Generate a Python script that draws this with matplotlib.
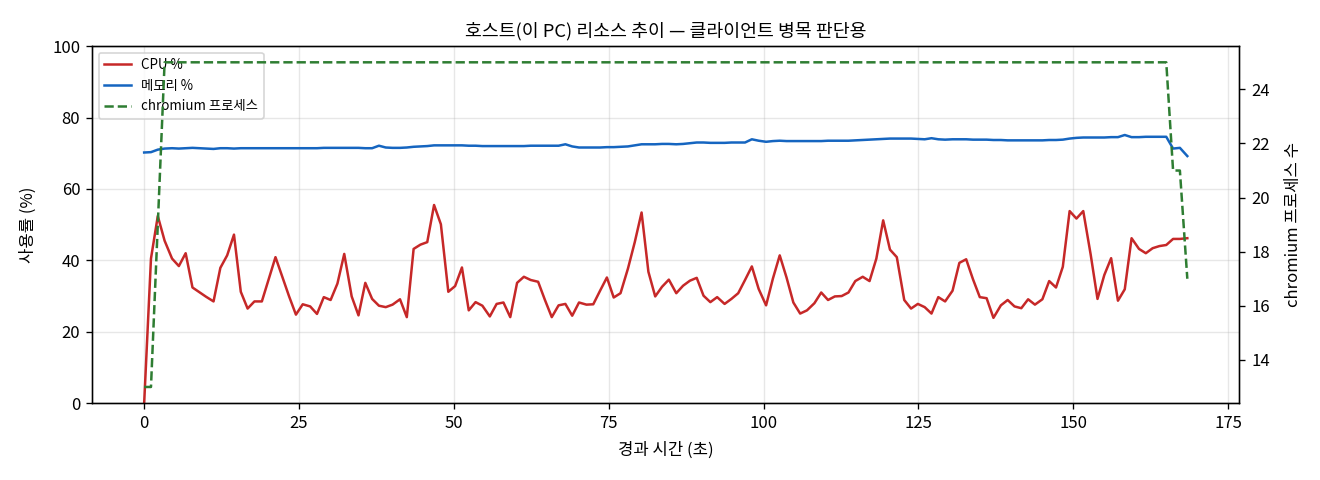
import matplotlib
matplotlib.use("Agg")
import matplotlib.pyplot as plt

plt.rcParams['font.family'] = ['Noto Sans CJK KR', 'DejaVu Sans']
plt.rcParams['axes.unicode_minus'] = False

elapsed = [0.0, 1.1, 2.2, 3.3, 4.5, 5.6, 6.7, 7.8, 8.9, 10.0,
           11.2, 12.3, 13.4, 14.5, 15.6, 16.7, 17.8, 19.0, 20.1, 21.2,
           22.3, 23.4, 24.5, 25.6, 26.8, 27.9, 29.0, 30.1, 31.2, 32.3,
           33.5, 34.6, 35.7, 36.8, 37.9, 39.0, 40.1, 41.3, 42.4, 43.5,
           44.6, 45.7, 46.8, 47.9, 49.1, 50.2, 51.3, 52.4, 53.5, 54.6,
           55.8, 56.9, 58.0, 59.1, 60.2, 61.3, 62.4, 63.6, 64.7, 65.8,
           66.9, 68.0, 69.1, 70.2, 71.4, 72.5, 73.6, 74.7, 75.8, 76.9,
           78.1, 79.2, 80.3, 81.4, 82.5, 83.6, 84.7, 85.9, 87.0, 88.1,
           89.2, 90.3, 91.4, 92.5, 93.7, 94.8, 95.9, 97.0, 98.1, 99.2,
           100.4, 101.5, 102.6, 103.7, 104.8, 105.9, 107.0, 108.2, 109.3, 110.4,
           111.5, 112.6, 113.7, 114.8, 116.0, 117.1, 118.2, 119.3, 120.4, 121.5,
           122.7, 123.8, 124.9, 126.0, 127.1, 128.2, 129.3, 130.5, 131.6, 132.7,
           133.8, 134.9, 136.0, 137.1, 138.3, 139.4, 140.5, 141.6, 142.7, 143.8,
           145.0, 146.1, 147.2, 148.3, 149.4, 150.5, 151.6, 152.8, 153.9, 155.0,
           156.1, 157.2, 158.3, 159.4, 160.6, 161.7, 162.8, 163.9, 165.0, 166.1,
           167.2, 168.4]

cpu_pct = [0.0, 40.5, 52.4, 45.5, 40.5, 38.4, 42.0, 32.4, 31.1, 29.8,
           28.5, 37.9, 41.4, 47.2, 31.2, 26.5, 28.5, 28.5, 34.7, 40.9,
           35.4, 29.9, 24.8, 27.7, 27.1, 25.0, 29.7, 28.9, 33.5, 41.8,
           29.9, 24.6, 33.7, 29.2, 27.3, 26.9, 27.6, 29.1, 24.1, 43.2,
           44.4, 45.1, 55.5, 50.1, 31.2, 32.8, 38.0, 26.0, 28.3, 27.3,
           24.3, 27.8, 28.2, 24.1, 33.7, 35.4, 34.5, 34.0, 28.9, 24.1,
           27.4, 27.8, 24.5, 28.2, 27.6, 27.7, 31.5, 35.2, 29.6, 30.8,
           37.7, 45.1, 53.4, 36.8, 29.9, 32.6, 34.6, 30.8, 32.9, 34.3,
           35.1, 30.1, 28.3, 29.7, 27.8, 29.2, 30.8, 34.5, 38.3, 32.0,
           27.4, 34.9, 41.4, 35.2, 28.2, 25.1, 26.0, 28.0, 31.0, 28.9,
           29.9, 30.0, 31.0, 34.2, 35.4, 34.2, 40.5, 51.2, 43.0, 40.9,
           28.9, 26.5, 27.8, 26.9, 25.1, 29.7, 28.5, 31.5, 39.3, 40.3,
           34.7, 29.7, 29.4, 23.9, 27.4, 28.9, 27.1, 26.6, 29.1, 27.6,
           29.1, 34.2, 32.4, 38.2, 53.8, 51.7, 53.8, 41.6, 29.2, 35.9,
           40.6, 28.7, 31.9, 46.2, 43.2, 42.0, 43.4, 44.0, 44.3, 46.0,
           46.0, 46.2]

mem_pct = [70.2, 70.3, 71.0, 71.3, 71.4, 71.3, 71.4, 71.5, 71.4, 71.3,
           71.2, 71.4, 71.4, 71.3, 71.4, 71.4, 71.4, 71.4, 71.4, 71.4,
           71.4, 71.4, 71.4, 71.4, 71.4, 71.4, 71.5, 71.5, 71.5, 71.5,
           71.5, 71.5, 71.4, 71.4, 72.1, 71.6, 71.5, 71.5, 71.6, 71.8,
           71.9, 72.0, 72.2, 72.2, 72.2, 72.2, 72.2, 72.1, 72.1, 72.0,
           72.0, 72.0, 72.0, 72.0, 72.0, 72.0, 72.1, 72.1, 72.1, 72.1,
           72.1, 72.5, 71.9, 71.6, 71.6, 71.6, 71.6, 71.7, 71.7, 71.8,
           71.9, 72.2, 72.5, 72.5, 72.5, 72.6, 72.6, 72.5, 72.6, 72.8,
           73.0, 73.0, 72.9, 72.9, 72.9, 73.0, 73.0, 73.0, 73.9, 73.5,
           73.2, 73.4, 73.5, 73.4, 73.4, 73.4, 73.4, 73.4, 73.4, 73.5,
           73.5, 73.5, 73.5, 73.6, 73.7, 73.8, 73.9, 74.0, 74.1, 74.1,
           74.1, 74.1, 74.0, 73.9, 74.2, 73.9, 73.8, 73.9, 73.9, 73.9,
           73.8, 73.8, 73.8, 73.7, 73.7, 73.6, 73.6, 73.6, 73.6, 73.6,
           73.6, 73.7, 73.7, 73.8, 74.1, 74.3, 74.4, 74.4, 74.4, 74.4,
           74.5, 74.5, 75.1, 74.5, 74.5, 74.6, 74.6, 74.6, 74.6, 71.3,
           71.5, 69.2]

chromium_procs = [13, 13, 19] + [25] * 146 + [21, 21, 17]

fig, ax = plt.subplots(figsize=(11, 4), dpi=120)
fig.subplots_adjust(left=0.0697, right=0.939, top=0.904, bottom=0.160)

l1, = ax.plot(elapsed, cpu_pct, color='#c62828', lw=1.5, label='CPU %')
l2, = ax.plot(elapsed, mem_pct, color='#1565c0', lw=1.5, label='메모리 %')
ax.set_ylim(0, 100)
ax.set_xlabel('경과 시간 (초)', labelpad=6)
ax.set_ylabel('사용률 (%)', labelpad=9)
ax.grid(True, alpha=0.3)
ax.set_title('호스트(이 PC) 리소스 추이 — 클라이언트 병목 판단용', fontsize=11)

ax2 = ax.twinx()
l3, = ax2.plot(elapsed, chromium_procs, color='#2e7d32', lw=1.5, ls='--',
               label='chromium 프로세스')
ax2.set_ylabel('chromium 프로세스 수', labelpad=9)

ax.legend(handles=[l1, l2, l3], loc='upper left', fontsize=8)

fig.savefig('out.png')
